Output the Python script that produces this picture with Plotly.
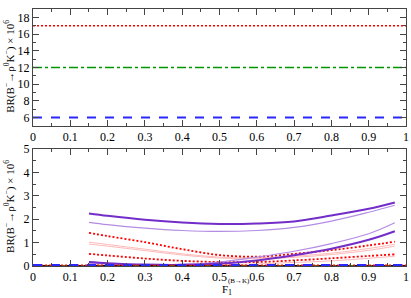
import plotly.graph_objects as go

# ---------------- data ----------------
# top panel: constant reference levels
x_full = [0.0, 1.0]
top_red_dot = [17.0, 17.0]
top_green_dashdot = [12.0, 12.0]
top_blue_dash = [6.0, 6.0]

# bottom panel: curves vs F1^(B->K)
xs = [0.15, 0.2, 0.3, 0.4, 0.5, 0.6, 0.7, 0.8, 0.9, 0.97]
purple_thick_up = [2.25, 2.15, 1.98, 1.86, 1.80, 1.82, 1.91, 2.16, 2.45, 2.72]
purple_thin_up = [1.87, 1.77, 1.62, 1.52, 1.48, 1.52, 1.65, 1.92, 2.30, 2.60]
purple_thick_low = [0.17, 0.12, 0.06, 0.05, 0.11, 0.24, 0.46, 0.74, 1.12, 1.49]
purple_thin_low = [0.12, 0.09, 0.06, 0.07, 0.17, 0.38, 0.63, 0.96, 1.38, 1.85]
red_dot_up = [1.42, 1.28, 1.02, 0.72, 0.47, 0.40, 0.52, 0.68, 0.88, 1.04]
red_dot_low = [0.52, 0.45, 0.32, 0.22, 0.17, 0.17, 0.24, 0.33, 0.43, 0.50]
pink_a = [1.02, 0.92, 0.72, 0.52, 0.38, 0.35, 0.42, 0.55, 0.75, 0.93]
pink_b = [0.94, 0.85, 0.66, 0.47, 0.34, 0.31, 0.37, 0.49, 0.67, 0.85]
pink_c = [0.05, 0.04, 0.03, 0.03, 0.05, 0.09, 0.15, 0.22, 0.33, 0.42]

# near-zero levels in bottom panel
low_black = [0.02, 0.02]
low_blue = [0.04, 0.04]
low_green = [0.01, 0.01]
low_red = [0.03, 0.03]

# tick labels
x_ticks = [0, 0.1, 0.2, 0.3, 0.4, 0.5, 0.6, 0.7, 0.8, 0.9, 1.0]
x_ticktext = ["0", "0.1", "0.2", "0.3", "0.4", "0.5", "0.6", "0.7", "0.8", "0.9", "1"]
y_top_ticks = [6, 8, 10, 12, 14, 16, 18]
y_bot_ticks = [0, 1, 2, 3, 4, 5]

PURPLE = "rgb(115,45,200)"
PURPLE_L = "rgb(180,140,228)"
RED = "rgb(255,0,0)"
PINK = "rgb(255,185,185)"
BLUE = "rgb(40,40,255)"
GREEN = "rgb(0,150,0)"
DOT = "2px,2px"

fig = go.Figure()

def add(x, y, color, width, dash="solid", xa="x", ya="y", spline=True):
    fig.add_trace(go.Scatter(
        x=x, y=y, mode="lines", xaxis=xa, yaxis=ya,
        line=dict(color=color, width=width, dash=dash,
                  shape="spline" if spline else "linear"),
        showlegend=False, hoverinfo="skip"))

# top panel
add(x_full, top_red_dot, RED, 1.5, DOT, "x", "y", False)
add(x_full, top_green_dashdot, GREEN, 1.5, "dashdot", "x", "y", False)
add(x_full, top_blue_dash, BLUE, 2, "dash", "x", "y", False)

# bottom panel
for y, c, w, d in [
    (pink_a, PINK, 1, "solid"),
    (pink_b, PINK, 1, "solid"),
    (pink_c, PINK, 1, "solid"),
    (red_dot_up, RED, 1.8, DOT),
    (red_dot_low, RED, 1.8, DOT),
    (purple_thin_up, PURPLE_L, 1.2, "solid"),
    (purple_thin_low, PURPLE_L, 1.2, "solid"),
    (purple_thick_up, PURPLE, 2, "solid"),
    (purple_thick_low, PURPLE, 2, "solid"),
]:
    add(xs, y, c, w, d, "x2", "y2")

add(x_full, low_black, "black", 1, "solid", "x2", "y2", False)
add(x_full, low_green, GREEN, 1.5, "dashdot", "x2", "y2", False)
add(x_full, low_red, RED, 1.5, DOT, "x2", "y2", False)
add(x_full, low_blue, BLUE, 2, "dash", "x2", "y2", False)

FONT = "Liberation Serif, Times New Roman, Times, serif"
axis_common = dict(
    showline=True, linecolor="#444", linewidth=1, mirror="ticks",
    ticks="inside", ticklen=6, tickwidth=1, tickcolor="#444",
    showgrid=False, zeroline=False, ticklabeloverflow="allow",
    tickfont=dict(family=FONT, size=12, color="black"),
)

ytitle = "BR(B<sup>−</sup>→ρ<sup>0</sup>K<sup>−</sup>) × 10<sup>6</sup>"

L, R = 33, 2
BOT = 266  # pixel y of bottom plot edge


def px_ann(text, px, py, size, yanchor="middle"):
    return dict(text=text, xref="paper", yref="paper", x=0, y=0,
                xshift=px - L, yshift=-(py - BOT), showarrow=False,
                xanchor="center", yanchor=yanchor, borderpad=0,
                font=dict(family=FONT, size=size, color="black"))


fig.update_layout(
    width=411, height=298,
    margin=dict(l=L, r=R, t=2, b=32),
    paper_bgcolor="white", plot_bgcolor="white",
    font=dict(family=FONT, size=12, color="black"),
    xaxis=dict(domain=[0, 1], anchor="y", range=[0, 1],
               tickmode="array", tickvals=x_ticks, ticktext=x_ticktext,
               minor=dict(ticks="inside", ticklen=3, dtick=0.05, tickcolor="#444"),
               **axis_common),
    yaxis=dict(domain=[0.545, 1], anchor="x", range=[5, 19],
               tickmode="array", tickvals=y_top_ticks,
               minor=dict(ticks="inside", ticklen=3, dtick=1, tickcolor="#444"),
               **axis_common),
    xaxis2=dict(domain=[0, 1], anchor="y2", range=[0, 1],
                tickmode="array", tickvals=x_ticks, ticktext=x_ticktext,
                minor=dict(ticks="inside", ticklen=3, dtick=0.05, tickcolor="#444"),
                **axis_common),
    yaxis2=dict(domain=[0, 0.4545], anchor="x2", range=[0, 5],
                tickmode="array", tickvals=y_bot_ticks,
                minor=dict(ticks="inside", ticklen=3, dtick=0.5, tickcolor="#444"),
                **axis_common),
    annotations=[
        dict(text=ytitle, xref="paper", yref="paper", x=0, y=0.775,
             xshift=-23, textangle=-90, showarrow=False,
             xanchor="center", yanchor="middle",
             font=dict(family=FONT, size=11)),
        dict(text=ytitle, xref="paper", yref="paper", x=0, y=0.23,
             xshift=-23, textangle=-90, showarrow=False,
             xanchor="center", yanchor="middle",
             font=dict(family=FONT, size=11)),
        px_ann("F", 225, 289, 11),
        px_ann("1", 230, 298, 8, "bottom"),
        px_ann("(B→K)", 239, 281, 7),
    ],
)

fig.write_html(
    "out.html",
    config={"displayModeBar": False},
    post_script="document.body.style.margin='0';document.body.style.overflow='hidden';",
)
